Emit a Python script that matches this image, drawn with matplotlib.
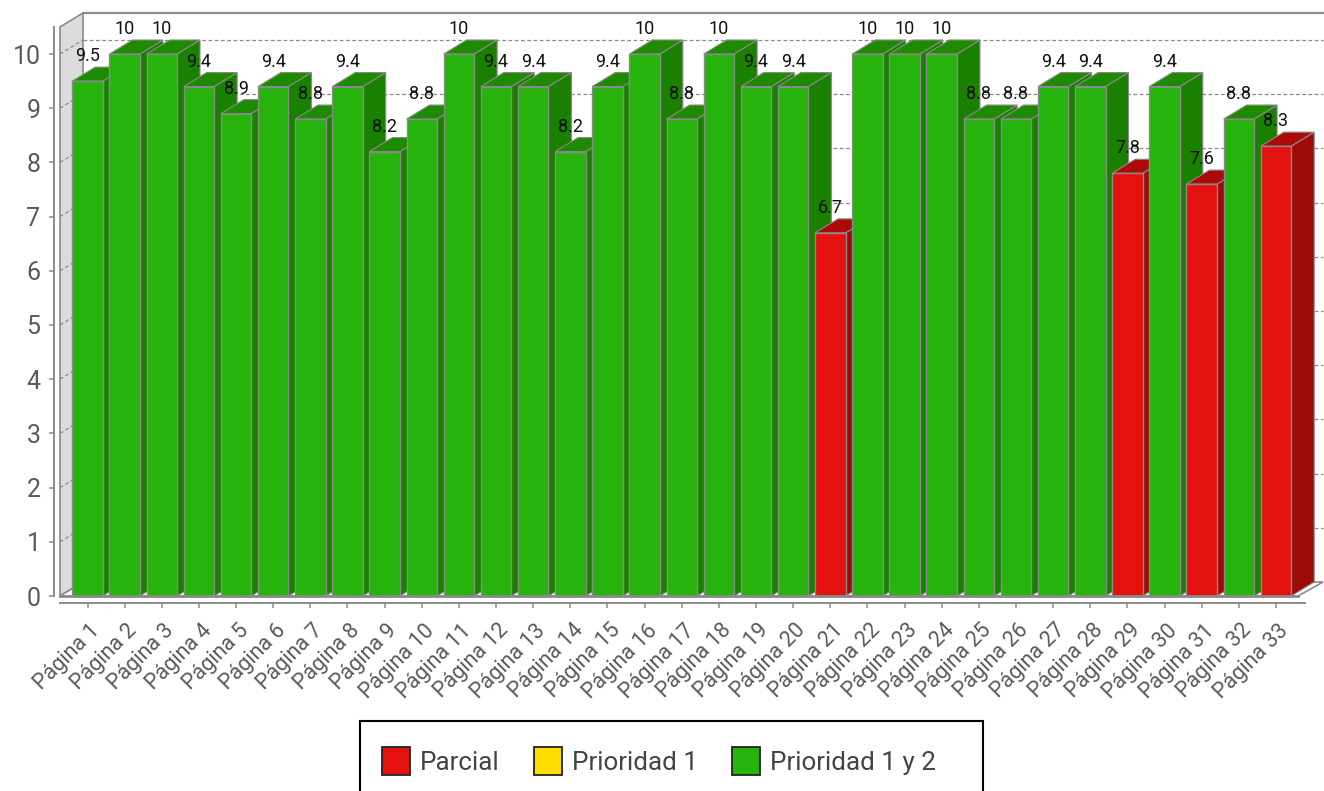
import matplotlib
matplotlib.use("Agg")
import matplotlib.pyplot as plt
from matplotlib.patches import Patch, Polygon, Rectangle
from matplotlib.transforms import ScaledTranslation

# values
pages = ["Página %d" % n for n in range(1, 34)]
scores = [9.5, 10, 10, 9.4, 8.9, 9.4, 8.8, 9.4, 8.2, 8.8, 10, 9.4, 9.4, 8.2, 9.4, 10, 8.8,
          10, 9.4, 9.4, 6.7, 10, 10, 10, 8.8, 8.8, 9.4, 9.4, 7.8, 9.4, 7.6, 8.8, 8.3]
levels = ["ok"] * 20 + ["bad"] + ["ok"] * 7 + ["bad", "ok", "bad", "ok", "bad"]
score_labels = ["%g" % s for s in scores]
legend_names = ["Parcial", "Prioridad 1", "Prioridad 1 y 2"]
y_ticks = list(range(0, 11))

plt.rcParams["font.family"] = ["Roboto", "DejaVu Sans"]

W, H = 1324, 791
PX_X = 37.14   # pixels per bar
PX_Y = 54.2    # pixels per unit
DX = 23 / PX_X  # 3d depth in data units
DY = 14 / PX_Y
BAR_W = 0.82

FRONT = {"ok": "#26b30b", "bad": "#e3120f"}
SIDE = {"ok": "#1a8000", "bad": "#9e0a08"}
TOP = {"ok": "#1e8a00", "bad": "#ab0a08"}
EDGE = "#8a8a8a"
TXT = "#5a5a5a"

fig = plt.figure(figsize=(W / 100, H / 100), dpi=100)
ax = fig.add_axes([60 / W, 1 - 596 / H, (1305 - 60) / W, (596 - 27) / H])
ax.set_xlim(1 + (60 - 87.5) / PX_X, 1 + (1305 - 87.5) / PX_X)
ax.set_ylim(0, 569 / PX_Y)
xl = ax.get_xlim()

# walls and floor
wall_right = xl[1] + (1323 - 1305) / PX_X
ax.add_patch(Polygon([(xl[0], 0), (xl[0], 569 / PX_Y), (xl[0] + DX, 569 / PX_Y + DY), (xl[0] + DX, DY)],
                     closed=True, fc="#dcdcdc", ec=EDGE, lw=1.2, clip_on=False, zorder=1))
ax.plot([xl[0] + DX, wall_right], [569 / PX_Y + DY] * 2, color=EDGE, lw=1.6, clip_on=False, zorder=1)
right_floor = xl[1] - (1305 - 1298) / PX_X
ax.add_patch(Polygon([(xl[0], 0), (xl[0] + DX, DY), (wall_right, DY), (right_floor, 0)],
                     closed=True, fc="white", ec=EDGE, lw=1.2, clip_on=False, zorder=1))

for t in y_ticks[1:]:
    ax.plot([xl[0], xl[0] + DX], [t, t + DY], color=EDGE, lw=0.9, ls=(0, (3, 2)), clip_on=False, zorder=2)
    ax.plot([xl[0] + DX, wall_right], [t + DY, t + DY], color=EDGE, lw=0.9, ls=(0, (3, 2)), clip_on=False, zorder=2)

# bars, left to right so each one covers the side of the previous
positions = list(range(1, len(pages) + 1))
for i, (x, v, lev) in enumerate(zip(positions, scores, levels)):
    z = 3 + i
    ax.bar(x, v, width=BAR_W, color=FRONT[lev], edgecolor=EDGE, linewidth=1.0, zorder=z + 0.2, clip_on=False)
    l, r = x - BAR_W / 2, x + BAR_W / 2
    ax.add_patch(Polygon([(r, 0), (r, v), (r + DX, v + DY), (r + DX, DY)], closed=True,
                         fc=SIDE[lev], ec=EDGE, lw=0.8, zorder=z, clip_on=False))
    ax.add_patch(Polygon([(l, v), (r, v), (r + DX, v + DY), (l + DX, v + DY)], closed=True,
                         fc=TOP[lev], ec=EDGE, lw=0.8, zorder=z, clip_on=False))

for x, v, s in zip(positions, scores, score_labels):
    ax.text(x, v + 0.46, s, ha="center", va="center", fontsize=13, color="#111111", zorder=60)

ax.plot([xl[0], right_floor], [0, 0], color=EDGE, lw=2, clip_on=False, zorder=50)

for name in ["top", "right"]:
    ax.spines[name].set_visible(False)
ax.spines["left"].set_position(("outward", 4.5))
ax.spines["bottom"].set_position(("outward", 5))
for name in ["left", "bottom"]:
    ax.spines[name].set_color(EDGE)
    ax.spines[name].set_linewidth(1.4)

ax.set_yticks(y_ticks)
ax.set_xticks(positions)
ax.tick_params(axis="y", length=3.5, width=1.1, color=EDGE, labelcolor=TXT, labelsize=18, pad=6)
ax.tick_params(axis="x", length=3.5, width=1.1, color=EDGE, labelcolor=TXT, labelsize=15.5, pad=3)
ax.set_xticklabels(pages, rotation=45, ha="right", rotation_mode="anchor")
shift = ScaledTranslation(2 / 100, -8 / 100, fig.dpi_scale_trans)
for lab in ax.get_xticklabels():
    lab.set_transform(lab.get_transform() + shift)

# legend, box runs past the bottom of the figure
fig.add_artist(Rectangle((360 / W, 1 - 800 / H), 623 / W, 79 / H, transform=fig.transFigure,
                         fc="white", ec="black", lw=1.5))
legend_colors = ["#e3120f", "#ffdd00", "#26b30b"]
handles = [Patch(fc=c, ec="#222222", lw=1.3) for c in legend_colors]
FS = 18.7
fs_px = FS * 100 / 72
leg = fig.legend(handles, legend_names, loc="upper left", bbox_to_anchor=(382 / W, 1 - 747 / H),
                 ncols=3, frameon=False, fontsize=FS, labelcolor="#444444", borderpad=0, borderaxespad=0,
                 handlelength=28 / fs_px, handleheight=34 / fs_px, handletextpad=10 / fs_px,
                 columnspacing=34 / fs_px)

fig.savefig("out.png", dpi=100)
